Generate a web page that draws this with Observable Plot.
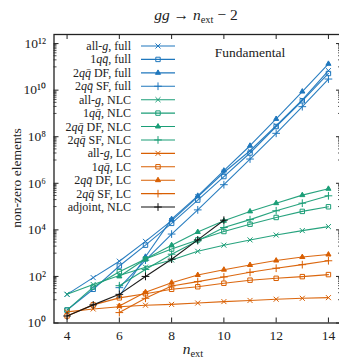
<!DOCTYPE html>
<html><head><meta charset="utf-8">
<script src="https://cdn.jsdelivr.net/npm/d3@7"></script>
<script src="https://cdn.jsdelivr.net/npm/@observablehq/plot@0.6"></script>
<style>
body{margin:0;overflow:hidden;background:#fff;font-family:"Liberation Serif","Times New Roman",serif;color:#222;}
#title{height:28px;width:339px;box-sizing:border-box;padding-left:53px;text-align:center;font-size:15.5px;line-height:30px;white-space:nowrap;}
#title sub{font-size:10.5px;vertical-align:-3px;line-height:0;}
</style></head><body>
<div id="title"><i>gg</i> → <i>n</i><sub>ext</sub> − 2</div>
<div id="chart"></div>
<script>
// ---- data ----
const nAll = [4,5,6,7,8,9,10,11,12,13,14];
const nTwo = [6,7,8,9,10,11,12,13,14];
const nAdj = [4,5,6,7,8,9,10];

const allgFull  = [17, 89, 450, 3200, 2.5e4, 2.6e5, 2.9e6, 2.5e7, 3.0e8, 3.8e9, 6.9e10];
const qqFull    = [3.6, 28, 280, 2200, 1.9e4, 1.9e5, 1.95e6, 2.0e7, 2.75e8, 3.5e9, 5.2e10];
const dfFull    = [14, 700, 2.9e4, 2.9e5, 3.5e6, 4.1e7, 5.8e8, 8.7e9, 1.35e11];
const sfFull    = [33, 500, 6600, 7.2e4, 8.7e5, 1.1e7, 1.4e8, 1.95e9, 3.0e10];

const allgNLC   = [17, 45, 110, 250, 510, 1200, 2200, 3700, 6000, 9300, 1.38e4];
const qqNLC     = [3.6, 35, 160, 560, 1500, 3700, 8500, 1.75e4, 3.4e4, 6.2e4, 9.8e4];
const dfNLC     = [100, 560, 2200, 8100, 2.45e4, 6.2e4, 1.4e5, 3.1e5, 5.8e5];
const sfNLC     = [40, 200, 900, 3400, 1.26e4, 2.75e4, 6.6e4, 1.4e5, 2.9e5];

const allgLC    = [3, 4, 5, 5.8, 6.3, 7.2, 8.3, 9.3, 10.5, 11.5, 12.3];
const qqLC      = [2, 6, 12, 18, 28, 36, 51, 69, 83, 98, 120];
const dfLC      = [5.4, 21, 54, 115, 195, 310, 480, 680, 870];
const sfLC      = [2.8, 11.5, 39, 60, 95, 150, 225, 320, 470];

const adjNLC    = [2, 6, 17, 100, 550, 3700, 2.6e4];

const xTicks = [4,6,8,10,12,14];
const yMajor = [1e0,1e2,1e4,1e6,1e8,1e10,1e12];
const yMinor = [1,3,5,7,9,11].flatMap(e => [1,2,3,4,5,6,7,8,9].map(k => k*10**e));

// ---- styles ----
const BLUE="#1f77bd", GREEN="#1b9e77", ORANGE="#d95f02", BLACK="#111";
const series = [
 {lab:[["all-",0],["g",1],[", full",0]],            n:nAll, v:allgFull, c:BLUE,  s:"times"},
 {lab:[["1",0],["qq\u0304",1],[", full",0]],        n:nAll, v:qqFull,   c:BLUE,  s:"square"},
 {lab:[["2",0],["qq\u0304",1],[" DF, full",0]],     n:nTwo, v:dfFull,   c:BLUE,  s:"triangle"},
 {lab:[["2",0],["qq\u0304",1],[" SF, full",0]],     n:nTwo, v:sfFull,   c:BLUE,  s:"plus"},
 {lab:[["all-",0],["g",1],[", NLC",0]],             n:nAll, v:allgNLC,  c:GREEN, s:"times"},
 {lab:[["1",0],["qq\u0304",1],[", NLC",0]],         n:nAll, v:qqNLC,    c:GREEN, s:"square"},
 {lab:[["2",0],["qq\u0304",1],[" DF, NLC",0]],      n:nTwo, v:dfNLC,    c:GREEN, s:"triangle"},
 {lab:[["2",0],["qq\u0304",1],[" SF, NLC",0]],      n:nTwo, v:sfNLC,    c:GREEN, s:"plus"},
 {lab:[["all-",0],["g",1],[", LC",0]],              n:nAll, v:allgLC,   c:ORANGE,s:"times"},
 {lab:[["1",0],["qq\u0304",1],[", LC",0]],          n:nAll, v:qqLC,     c:ORANGE,s:"square"},
 {lab:[["2",0],["qq\u0304",1],[" DF, LC",0]],       n:nTwo, v:dfLC,     c:ORANGE,s:"triangle"},
 {lab:[["2",0],["qq\u0304",1],[" SF, LC",0]],       n:nTwo, v:sfLC,     c:ORANGE,s:"plus"},
 {lab:[["adjoint, NLC",0]],                         n:nAdj, v:adjNLC,   c:BLACK, s:"plus"}
];
const symR = {times:2.4, square:2.5, triangle:1.9, plus:2.6};
const symFill = s => s === "triangle";

const W=339, H=334, mL=53.5, mR=-2, mT=6, mB=39.5;
const FW = W-mL-mR, FH = H-mT-mB;
const FONT = "Liberation Serif, Times New Roman, serif";
const sup = {"0":"⁰","1":"¹","2":"²","3":"³","4":"⁴","5":"⁵","6":"⁶","7":"⁷","8":"⁸","9":"⁹"};
const fmtY = d => "10" + String(Math.round(Math.log10(d))).split("").map(c=>sup[c]).join("");

const marks = [];
for (const s of series) {
  const rows = s.n.map((n,i)=>({n, v:s.v[i]}));
  marks.push(Plot.line(rows, {x:"n", y:"v", stroke:s.c, strokeWidth:1.1, strokeOpacity:0.95}));
  marks.push(Plot.dot(rows, {x:"n", y:"v", symbol:s.s, r:symR[s.s], stroke:s.c,
     fill: symFill(s.s) ? s.c : "none", strokeWidth:1}));
}
const TK="#222";
marks.push(Plot.tickX(xTicks, {x:d=>d, insetTop:FH-5, stroke:TK}));
marks.push(Plot.tickX(xTicks, {x:d=>d, insetBottom:FH-5, stroke:TK}));
marks.push(Plot.tickY(yMajor, {y:d=>d, insetRight:FW-5, stroke:TK}));
marks.push(Plot.tickY(yMajor, {y:d=>d, insetLeft:FW-5, stroke:TK}));
marks.push(Plot.tickY(yMinor, {y:d=>d, insetRight:FW-3, stroke:TK, strokeWidth:0.8}));
marks.push(Plot.tickY(yMinor, {y:d=>d, insetLeft:FW-3, stroke:TK, strokeWidth:0.8}));
marks.push(Plot.frame({stroke:TK, strokeWidth:1.3}));
marks.push(Plot.axisX(xTicks, {tickSize:0, tickPadding:7, fontSize:13.5, fontFamily:FONT, label:null, tickFormat:d=>String(d), fill:TK}));
marks.push(Plot.axisY(yMajor, {tickSize:0, tickPadding:8, fontSize:13.5, fontFamily:FONT, label:null, tickFormat:fmtY, fill:TK}));

const plot = Plot.plot({
  width:W, height:H, marginLeft:mL, marginRight:mR, marginTop:mT, marginBottom:mB,
  x:{domain:[3.5,14.5]},
  y:{type:"log", domain:[1, 10**12.39]},
  style:{fontFamily:FONT, background:"#fff", overflow:"visible"},
  marks
});
document.getElementById("chart").appendChild(plot);

// ---- annotations: axis labels, legend ----
const svg = d3.select(plot);
const g = svg.append("g").attr("font-family", FONT).attr("fill", TK);
g.append("text").attr("transform","translate(16,150) rotate(-90)")
  .attr("text-anchor","middle").attr("font-size",13.5).attr("dy","0.35em").text("non-zero elements");
const xl = g.append("text").attr("x",193).attr("y",326).attr("text-anchor","middle").attr("font-size",15.5);
xl.append("tspan").attr("font-style","italic").text("n");
xl.append("tspan").attr("font-size",10.5).attr("dy",3).text("ext");
g.append("text").attr("x",250).attr("y",28.5).attr("text-anchor","middle").attr("font-size",13.5).text("Fundamental");
const sym = {times:d3.symbolTimes, square:d3.symbolSquare, triangle:d3.symbolTriangle, plus:d3.symbolPlus};
series.forEach((s,i)=>{
  const y = 18 + 13.42*i;
  const t = g.append("text").attr("x",131).attr("y",y+4).attr("text-anchor","end").attr("font-size",12);
  s.lab.forEach(([txt,it])=>{ const sp=t.append("tspan").text(txt); if(it) sp.attr("font-style","italic"); });
  g.append("line").attr("x1",141).attr("x2",175).attr("y1",y).attr("y2",y).attr("stroke",s.c).attr("stroke-width",1.1);
  const r = symR[s.s];
  g.append("path").attr("transform",`translate(158,${y})`)
    .attr("d", d3.symbol(sym[s.s], Math.PI*r*r)())
    .attr("stroke", s.c).attr("stroke-width",1)
    .attr("fill", symFill(s.s) ? s.c : "none");
});
</script>
</body></html>
